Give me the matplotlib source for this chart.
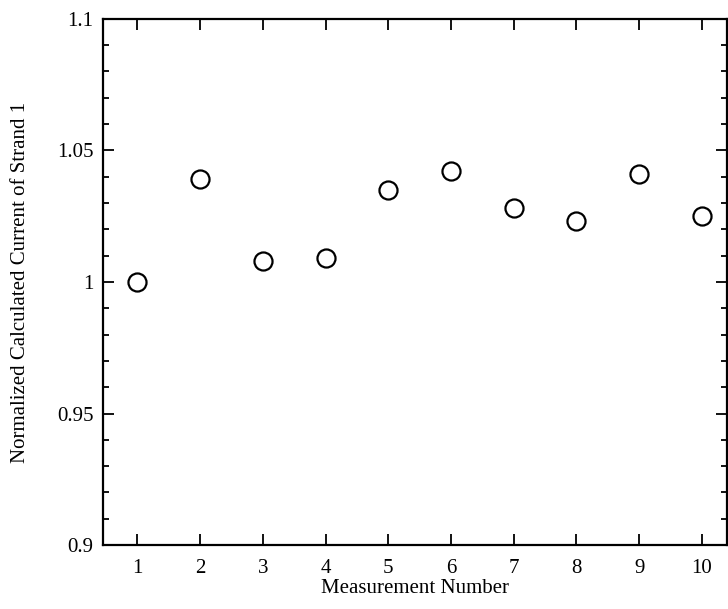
import matplotlib.pyplot as plt
from matplotlib.ticker import MultipleLocator

plt.rcParams['font.family'] = ['Liberation Serif', 'DejaVu Serif']

measurement = [1, 2, 3, 4, 5, 6, 7, 8, 9, 10]
current_norm = [1.000, 1.039, 1.008, 1.009, 1.035, 1.042, 1.028, 1.023, 1.041, 1.025]

fig = plt.figure(figsize=(7.28, 6.09), dpi=100)
ax = fig.add_axes([0.1415, 0.105, 0.857, 0.864])

ax.plot(measurement, current_norm, 'o', mfc='white', mec='black',
        ms=13, mew=1.6, ls='none')

ax.set_xlim(0.45, 10.4)
ax.set_ylim(0.9, 1.1)
ax.xaxis.set_major_locator(MultipleLocator(1))
ax.yaxis.set_minor_locator(MultipleLocator(0.01))
ax.set_yticks([0.9, 0.95, 1.0, 1.05, 1.1])
ax.set_yticklabels(['0.9', '0.95', '1', '1.05', '1.1'])

ax.tick_params(which='both', direction='in', top=True, right=True,
               labelsize=15, width=1.3)
ax.tick_params(which='major', length=8)
ax.tick_params(which='minor', length=4)
ax.tick_params(axis='x', pad=10)
ax.tick_params(axis='y', pad=7)
for s in ax.spines.values():
    s.set_linewidth(1.6)

ax.set_xlabel('Measurement Number', fontsize=15, labelpad=1)
ax.set_ylabel('Normalized Calculated Current of Strand 1', fontsize=15, labelpad=19)

fig.savefig('out.png', dpi=100)
